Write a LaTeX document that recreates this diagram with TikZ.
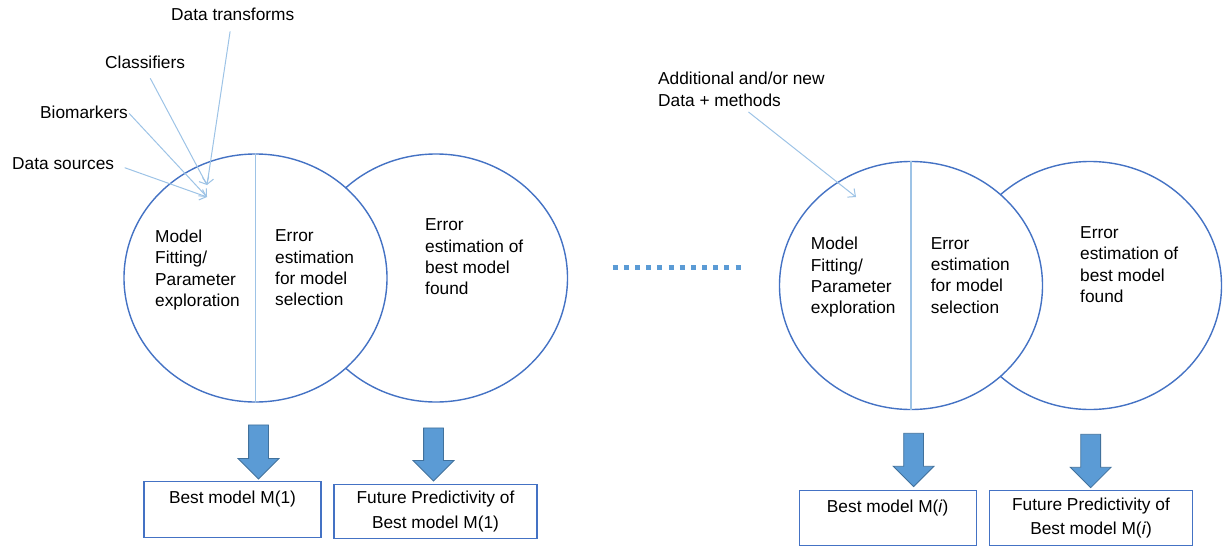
\documentclass[tikz,border=0pt]{standalone}
\usepackage{fontspec}
\setmainfont{Liberation Sans}
\usepackage{tikz}
\usetikzlibrary{shapes.geometric, shapes.arrows, arrows.meta, positioning, calc}
\definecolor{ringblue}{RGB}{68,114,196}
\definecolor{pointblue}{RGB}{157,195,230}
\definecolor{fatblue}{RGB}{91,155,213}
\definecolor{fatedge}{RGB}{65,113,156}
\tikzset{
  ring/.style={ellipse, draw=ringblue, fill=white, minimum width=263pt,
    minimum height=248pt, inner sep=0pt, line width=1.4pt},
  ringtext/.style={anchor=north west, align=left, inner sep=0pt,
    font=\fontsize{17.3}{21.3}\selectfont},
  tag/.style={anchor=west, inner sep=0pt, font=\fontsize{17.3}{21.3}\selectfont},
  pointer/.style={-{Straight Barb[length=6pt, width=11pt]}, draw=pointblue, line width=1pt},
  splitline/.style={draw=pointblue, line width=1.2pt},
  fatarrow/.style={single arrow, shape border rotate=270, draw=fatedge, fill=fatblue,
    line width=0.8pt, inner sep=9.5pt, minimum width=40pt, minimum height=54pt,
    single arrow head extend=10.5pt},
  resultbox/.style={rectangle, anchor=north, draw=ringblue, line width=1.3pt,
    align=center, inner sep=0pt, font=\fontsize{17.3}{24.5}\selectfont},
  dotline/.style={draw=fatblue, line width=5pt, dash pattern=on 5pt off 6.17pt}
}

\begin{document}
\begin{tikzpicture}[x=1pt, y=-1pt]
  \useasboundingbox (0,0) rectangle (1225,546);

  % First round
  \node[ring] (est1) at (436,278) {};
  \node[ring] (fit1) at (255.5,278) {};
  \draw[splitline] (fit1.north) -- (fit1.south);
  \node[ringtext] (fitT1) at (155,229.8) {Model\\Fitting/\\Parameter\\exploration};
  \node[ringtext] (selT1) at (275,229.8) {Error\\estimation\\for model\\selection};
  \node[ringtext] (estT1) at (425,218.8) {Error\\estimation of\\best model\\found};

  % Inputs
  \node[tag] (dtr) at (171,14) {Data transforms};
  \node[tag] (cls) at (105,62) {Classifiers};
  \node[tag] (bio) at (40,112) {Biomarkers};
  \node[tag] (src) at (12,164) {Data sources};
  \coordinate (inA) at (207,185);
  \coordinate (inB) at (207,197);
  \draw[pointer, shorten <=11pt] (dtr) -- (inA);
  \draw[pointer, shorten <=11pt] (cls.south) -- (inA);
  \draw[pointer, shorten <=2pt] (bio.east) -- (inB);
  \draw[pointer, shorten <=11pt] (src.east) -- (inB);

  % Outputs of round 1
  \node[fatarrow] (down1) at (258.5,447) {};
  \node[fatarrow, minimum height=53pt] (down2) at (433.5,449.5) {};
  \node[resultbox, minimum width=177pt, minimum height=56pt] (best1) at (232.5,481) {Best model M(1)\\\phantom{M}};
  \node[resultbox, minimum width=203pt, minimum height=54pt] (pred1) at (435.5,484) {Future Predictivity of\\Best model M(1)};

  % Dots
  \coordinate (gapL) at (612.7,267.3);
  \coordinate (gapR) at (741,267.3);
  \draw[dotline] (gapL) -- (gapR);

  % Round i
  \node[ring] (est2) at (1090,285.5) {};
  \node[ring] (fit2) at (911,285.5) {};
  \draw[splitline] (fit2.north) -- (fit2.south);
  \node[ringtext] (fitT2) at (810.7,237.1) {Model\\Fitting/\\Parameter\\exploration};
  \node[ringtext] (selT2) at (930.7,237.1) {Error\\estimation\\for model\\selection};
  \node[ringtext] (estT2) at (1080,226.5) {Error\\estimation of\\best model\\found};

  \node[ringtext] (addT) at (658,72) {Additional and/or new\\Data + methods};
  \coordinate (inC) at (856,197);
  \draw[pointer, shorten <=9pt] (addT.south) -- (inC);

  % Outputs of round i
  \node[fatarrow, minimum height=53.4pt] (down3) at (913.6,455) {};
  \node[fatarrow, minimum height=53.4pt] (down4) at (1090.7,456) {};
  \node[resultbox, minimum width=177pt, minimum height=55pt] (best2) at (887.7,490) {Best model M(\textit{i})\\\phantom{M}};
  \node[resultbox, minimum width=203pt, minimum height=55pt] (pred2) at (1091,490) {Future Predictivity of\\Best model M(\textit{i})};
\end{tikzpicture}
\end{document}
